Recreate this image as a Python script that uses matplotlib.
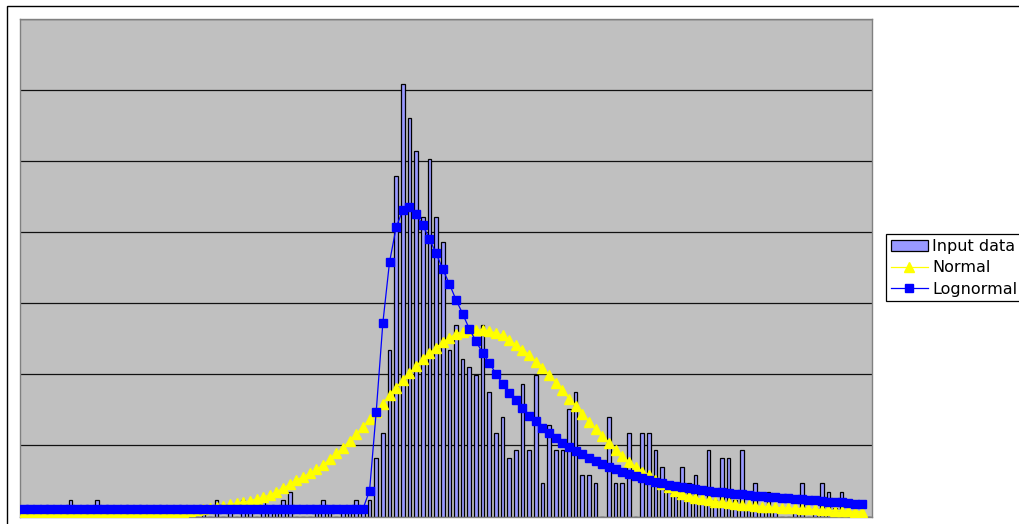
import numpy as np
import matplotlib.pyplot as plt
from matplotlib.patches import Rectangle

plt.rc('font', family='DejaVu Sans', size=10)

# Histogram: number of observations in each class
Counts = [0, 0, 0, 1, 0, 1, 0, 2, 1, 1, 1, 2, 0, 1, 0, 1,
          0, 0, 0, 1, 0, 0, 1, 1, 0, 0, 0, 1, 0, 2, 0, 1,
          0, 2, 1, 0, 2, 1, 1, 2, 3, 0, 0, 0, 1, 2, 1, 0,
          1, 1, 2, 1, 2, 7, 10, 20, 41, 52, 48, 44, 36, 43, 36, 33,
          20, 23, 19, 18, 17, 23, 15, 10, 12, 7, 8, 16, 8, 17, 4, 11,
          8, 8, 13, 15, 5, 5, 4, 0, 12, 4, 4, 10, 0, 10, 10, 8,
          6, 3, 3, 6, 4, 5, 2, 8, 2, 7, 7, 2, 8, 1, 4, 1,
          3, 1, 0, 0, 1, 4, 0, 1, 4, 3, 1, 3, 0, 0, 0, 0]
SampleSize = 855

# Fitted distributions, expected observations per class
Normal = [0.4] * 23 + [
    0.5, 0.6, 0.7, 0.8, 0.9, 1.0, 1.15, 1.3, 1.45, 1.6, 1.75, 1.9, 2.1, 2.35, 2.6, 3.0,
    3.4, 3.9, 4.4, 4.8, 5.2, 5.7, 6.2, 6.9, 7.6, 8.3, 9.1, 9.9, 10.8, 11.7, 12.6, 13.6,
    14.6, 15.5, 16.4, 17.3, 18.1, 18.9, 19.7, 20.3, 21.0, 21.5, 22.0, 22.2, 22.4, 22.4, 22.5, 22.3,
    22.1, 21.8, 21.3, 20.7, 20.1, 19.5, 18.6, 17.9, 17.0, 16.1, 15.2, 14.2, 13.3, 12.3, 11.4, 10.5,
    9.7, 8.9, 8.0, 7.3, 6.6, 6.0, 5.4, 5.0, 4.4, 3.9, 3.5, 3.1, 2.7, 2.45, 2.25, 2.1,
    1.95, 1.8, 1.7, 1.6, 1.5, 1.4, 1.35, 1.3, 1.2, 1.15, 1.1, 1.05, 1.0, 1.0, 0.95, 0.9,
    0.85, 0.8, 0.75, 0.7, 0.7, 0.65, 0.6, 0.6]
Lognormal = [0.9] * 52 + [
    3.1, 12.6, 23.3, 30.6, 34.8, 36.9, 37.2, 36.4, 35.1, 33.4, 31.7, 29.8, 28.0, 26.1, 24.4, 22.6,
    21.1, 19.7, 18.5, 17.2, 16.0, 14.9, 14.0, 13.1, 12.1, 11.5, 10.7, 10.1, 9.5, 8.8, 8.4, 7.9,
    7.5, 7.1, 6.7, 6.3, 6.0, 5.7, 5.4, 5.1, 4.9, 4.6, 4.4, 4.2, 4.0, 3.8, 3.7, 3.5,
    3.4, 3.3, 3.2, 3.1, 3.0, 2.9, 2.85, 2.75, 2.7, 2.6, 2.5, 2.45, 2.35, 2.3, 2.25, 2.2,
    2.1, 2.05, 2.0, 1.95, 1.9, 1.8, 1.75, 1.7, 1.65, 1.55, 1.5]

Classes = np.arange(len(Counts))
Freq = np.array(Counts) / SampleSize
NormalFreq = np.array(Normal) / SampleSize
LognormalFreq = np.array(Lognormal) / SampleSize

Figure = plt.figure(figsize=(10.19, 5.24), dpi=100)
Axes = Figure.add_axes([0.0201, 0.0143, 0.8352, 0.9489])
Axes.set_facecolor('#C0C0C0')

Bars = Axes.bar(Classes, Freq, width=0.55, color='#9999FF', edgecolor='black',
                linewidth=0.9, zorder=2, label='Input data')
NormalLine, = Axes.plot(np.arange(len(Normal)), NormalFreq, color='#FFFF00', linewidth=0.9,
                        marker='^', markersize=6.5, markeredgecolor='#FFFF00', zorder=3,
                        label='Normal')
LognormalLine, = Axes.plot(np.arange(len(Lognormal)), LognormalFreq, color='#0000FF',
                           linewidth=0.9, marker='s', markersize=5.3, markeredgecolor='#0000FF',
                           zorder=4, label='Lognormal')

Axes.set_xlim(-0.5, len(Counts) - 0.5)
Axes.set_ylim(0, 0.07)
Axes.set_yticks(np.arange(0, 0.0701, 0.01))
Axes.yaxis.grid(True, color='#111111', linewidth=0.9)
Axes.set_axisbelow(True)
Axes.tick_params(left=False, bottom=False, labelleft=False, labelbottom=False)
for Spine in Axes.spines.values():
    Spine.set_color('#808080')
    Spine.set_linewidth(1)

Legend = Figure.legend([Bars, NormalLine, LognormalLine], ['Input data', 'Normal', 'Lognormal'],
                       loc='upper left', bbox_to_anchor=(886 / 1019, 1 - 234 / 524),
                       frameon=True, fancybox=False, edgecolor='black', framealpha=1,
                       borderpad=0.3, borderaxespad=0, handlelength=2.3,
                       handletextpad=0.3, labelspacing=0.4, fontsize=11.5)
Legend.get_frame().set_linewidth(0.9)

# Outer chart frame
Figure.add_artist(Rectangle((7 / 1019, -0.02), 1.1, 1 - 6 / 524 + 0.02,
                            transform=Figure.transFigure, fill=False,
                            edgecolor='black', linewidth=1))

Figure.savefig('out.png', dpi=100)
plt.close(Figure)
